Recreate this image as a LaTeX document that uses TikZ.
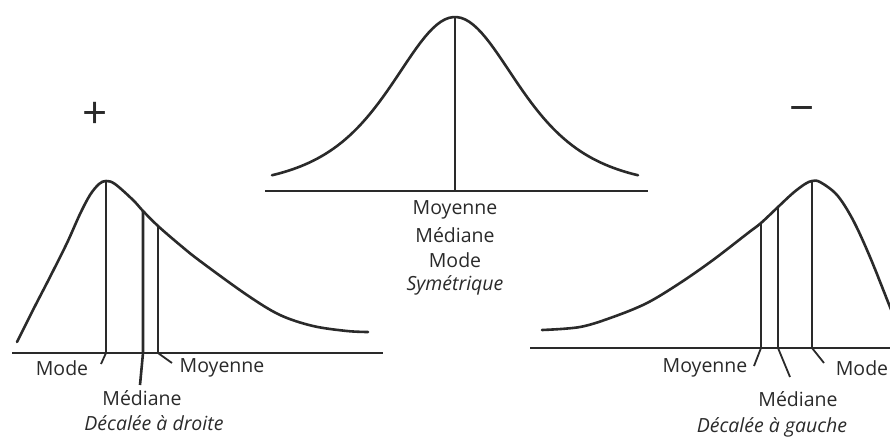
\documentclass[tikz,border=0pt]{standalone}
\usepackage{fontspec}
\setmainfont{Open Sans}
\definecolor{ink}{HTML}{2A2A2A}
\tikzset{
  curve/.style={line width=2.6pt,draw=ink,line cap=round},
  axis/.style={line width=2.8pt,draw=ink},
  marker/.style={line width=2.6pt,draw=ink},
  tick/.style={line width=1.8pt,draw=ink},
  valueText/.style={font=\fontsize{19.5}{25}\selectfont,text=ink,inner sep=0pt},
  caseTitle/.style={font=\fontsize{19.5}{25}\selectfont\itshape,text=ink,inner sep=0pt},
  signText/.style={font=\fontsize{44}{44}\selectfont,text=ink,inner sep=0pt}
}

\begin{document}
\begin{tikzpicture}[x=1pt,y=1pt]
  \useasboundingbox (0,0) rectangle (890,-439);

  % symmetric distribution
  \coordinate (cA) at (265,-191);
  \coordinate (cB) at (648,-191);
  \coordinate (cFoot) at (455,-191);
  \coordinate (cTop) at (455,-17);
  \draw[curve] plot[domain=-183:183,samples=90]
    ({455+\x},{-191+174/(1+(\x/120)^2)^2});
  \draw[axis] (cA) -- (cB);
  \draw[marker] (cFoot) -- (cTop);
  \node[valueText] (cMean) at (455,-210) {Moyenne};
  \node[valueText] (cMed) at (455,-235) {Médiane};
  \node[valueText] (cMode) at (455,-260) {Mode};
  \node[caseTitle] (cTitle) at (455,-285) {Symétrique};

  % skewed to the right
  \node[signText] (plus) at (95,-115) {+};
  \coordinate (lA) at (12,-353);
  \coordinate (lB) at (383,-353);
  \coordinate (lModeTop) at (106,-181);
  \coordinate (lModeFoot) at (106,-353);
  \coordinate (lModeEnd) at (101,-364);
  \coordinate (lMedTop) at (143,-211);
  \coordinate (lMedFoot) at (143,-353);
  \coordinate (lMedEnd) at (140,-385);
  \coordinate (lMeanTop) at (158,-226);
  \coordinate (lMeanFoot) at (158,-353);
  \coordinate (lMeanEnd) at (172,-363);
  \draw[curve] plot[smooth,tension=0.55] coordinates {
    (17,-342) (33,-310) (50,-277) (67,-243) (80,-214) (90,-195)
    (99,-184) (106,-181) (115,-184) (133,-200) (143,-211) (158,-226)
    (180,-245) (200,-261) (247,-295) (280,-315) (313,-326) (347,-331)
    (368,-332)};
  \draw[axis] (lA) -- (lB);
  \draw[marker] (lModeFoot) -- (lModeTop);
  \draw[marker] (lMedEnd) -- (lMedFoot) -- (lMedTop);
  \draw[marker] (lMeanFoot) -- (lMeanTop);
  \draw[tick] (lModeFoot) -- (lModeEnd);
  \draw[tick] (lMeanFoot) -- (lMeanEnd);
  \node[valueText] (lMode) at (62,-368) {Mode};
  \node[valueText] (lMean) at (222,-368) {Moyenne};
  \node[valueText] (lMed) at (142,-398) {Médiane};
  \node[caseTitle] (lTitle) at (154,-423) {Décalée à droite};

  % skewed to the left
  \node[signText] (minus) at (802,-115) {−};
  \coordinate (rA) at (530,-348);
  \coordinate (rB) at (890,-348);
  \coordinate (rModeTop) at (812,-181);
  \coordinate (rModeFoot) at (812,-348);
  \coordinate (rModeEnd) at (824,-363);
  \coordinate (rMedTop) at (778,-207);
  \coordinate (rMedFoot) at (778,-348);
  \coordinate (rMedEnd) at (790,-377);
  \coordinate (rMeanTop) at (761,-223);
  \coordinate (rMeanFoot) at (761,-348);
  \coordinate (rMeanEnd) at (754,-366);
  \draw[curve] plot[smooth,tension=0.55] coordinates {
    (542,-330) (580,-327) (613,-317) (647,-303) (680,-283) (713,-260)
    (748,-233) (761,-223) (778,-207) (793,-193) (805,-184) (812,-181)
    (820,-182) (837,-195) (853,-220) (870,-257) (890,-307) (897,-324)};
  \draw[axis] (rA) -- (rB);
  \draw[marker] (rModeFoot) -- (rModeTop);
  \draw[marker] (rMedFoot) -- (rMedTop);
  \draw[marker] (rMeanFoot) -- (rMeanTop);
  \draw[tick] (rModeFoot) -- (rModeEnd);
  \draw[tick] (rMedFoot) -- (rMedEnd);
  \draw[tick] (rMeanFoot) -- (rMeanEnd);
  \node[valueText] (rMean) at (705,-368) {Moyenne};
  \node[valueText] (rMode) at (862,-368) {Mode};
  \node[valueText] (rMed) at (798,-399) {Médiane};
  \node[caseTitle] (rTitle) at (772,-427) {Décalée à gauche};
\end{tikzpicture}
\end{document}
